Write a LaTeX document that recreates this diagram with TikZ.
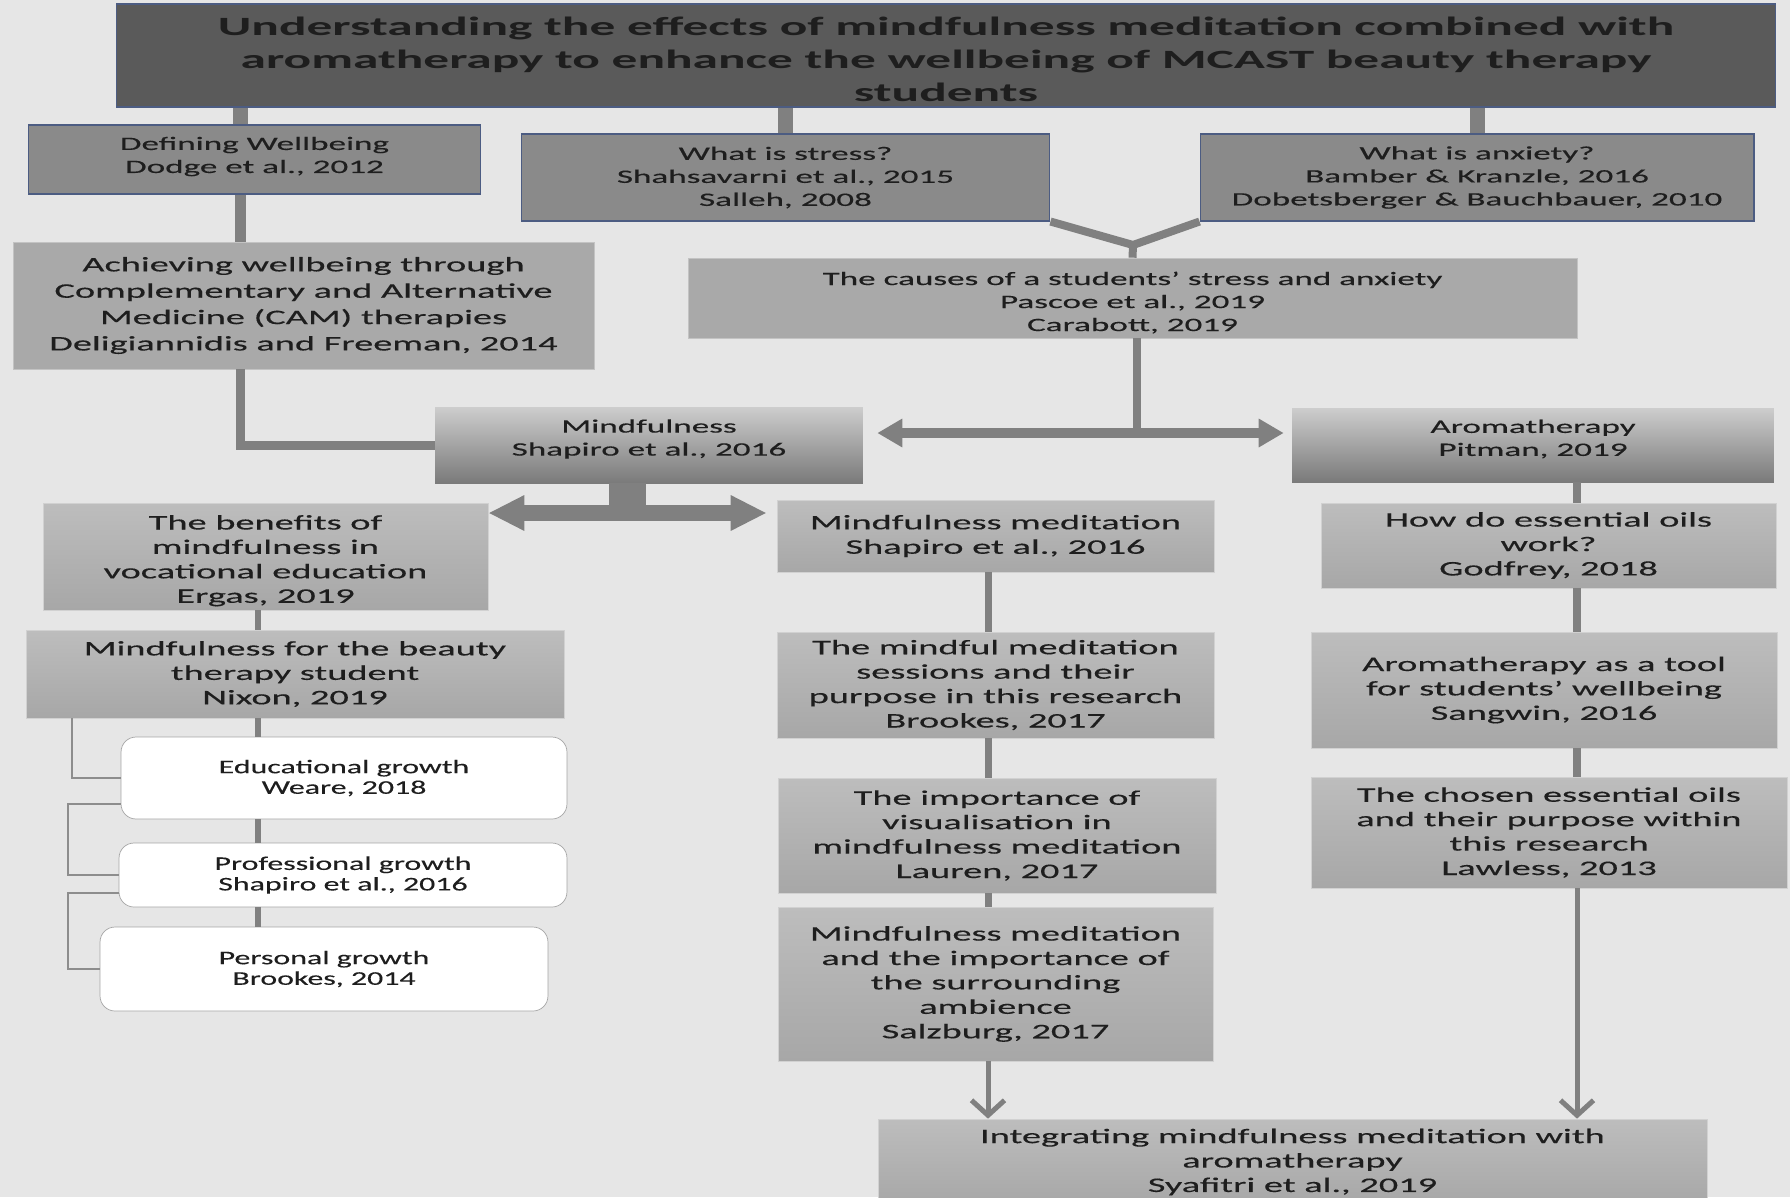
\documentclass[tikz,border=0pt]{standalone}
\usepackage{fontspec}
\setmainfont{Carlito}[FakeStretch=1.85, FakeBold=0.3]
\newfontfamily\headfam{Carlito}[FakeStretch=1.95]
\newfontfamily\leaffam{Carlito}[FakeStretch=1.65, FakeBold=0.2]
\usetikzlibrary{arrows.meta,calc}

\definecolor{bgfill}{HTML}{E6E6E6}
\definecolor{linkgray}{HTML}{808080}
\definecolor{titlefill}{HTML}{5A5A5A}
\definecolor{edgeblue}{HTML}{4C5C82}
\definecolor{topfill}{HTML}{8A8A8A}
\definecolor{boxfill}{HTML}{A9A9A9}
\definecolor{boxtop}{HTML}{BDBDBD}
\definecolor{boxbot}{HTML}{A7A7A7}
\definecolor{hubtop}{HTML}{CDCDCD}
\definecolor{hubbot}{HTML}{7A7A7A}
\definecolor{inkgray}{HTML}{1E1E1E}

\newcommand\bigtxt{\fontsize{11.8}{13.9}\selectfont}
\newcommand\midtxt{\fontsize{10.8}{13.1}\selectfont}
\newcommand\leaftxt{\leaffam\fontsize{11}{11.7}\selectfont}

\begin{document}
\begin{tikzpicture}[
    x=0.02cm, y=-0.02cm,
    sz/.style 2 args={minimum width=#1cm, minimum height=#2cm},
    base/.style={align=center, inner sep=1pt, text=inkgray},
    headbox/.style={base, fill=titlefill, draw=edgeblue, line width=0.6pt},
    headtxt/.style={base, font=\headfam\bfseries\fontsize{15}{18.8}\selectfont},
    topic/.style={base, fill=topfill, draw=edgeblue, line width=0.6pt, font=\midtxt},
    plain/.style={base, fill=boxfill, draw=boxfill!70!white, font=\bigtxt},
    shaded/.style={base, top color=boxtop, bottom color=boxbot, draw=boxtop!70!white, font=\bigtxt},
    hub/.style={base, top color=hubtop, bottom color=hubbot},
    midlabel/.style={base, font=\midtxt},
    growth/.style={base, fill=white, draw=gray!70, rounded corners=0.3cm, font=\leaftxt},
    link/.style={draw=linkgray, line width=#1},
    link/.default=0.14cm,
    bracket/.style={draw=linkgray!90!white, line width=1pt},
    fat/.style={draw=linkgray, line width=0.2cm, {Triangle[length=0.5cm,width=0.54cm]}-{Triangle[length=0.5cm,width=0.54cm]}},
    teearrow/.style={draw=linkgray, line width=0.32cm, {Triangle[length=0.72cm,width=0.66cm]}-{Triangle[length=0.72cm,width=0.66cm]}},
    barb/.style={draw=linkgray, line width=0.1cm, -{Straight Barb[length=0.3cm,width=0.66cm]}}
]
\clip (0,0) rectangle (1790,1197);
\fill[bgfill] (0,0) rectangle (1790,1197);

% spines
\coordinate (lspine) at (240,0);
\coordinate (bspine) at (258,0);
\coordinate (mspine) at (988,0);
\coordinate (rspine) at (1577,0);
\coordinate (fork) at (1133,245);
\coordinate (split) at (1137,433);
\coordinate (tee) at (627,513);

% boxes
\node (title) [headbox, sz={33.2}{2.06}] at (946,55.5) {};
\node (titletxt) [headtxt, yshift=-2pt] at (title) {Understanding the effects of mindfulness meditation combined with\\aromatherapy to enhance the wellbeing of MCAST beauty therapy\\students};
\node (defwell) [topic, sz={9.06}{1.38}] at (254.5,159.5) {};
\node (defwelltxt) [midlabel, yshift=1.7pt] at (defwell) {Defining Wellbeing\\Dodge et al., 2012};
\node (stress) [topic, sz={10.58}{1.74}] at (785.5,177.5) {What is stress?\\Shahsavarni et al., 2015\\Salleh, 2008};
\node (anxiety) [topic, sz={11.08}{1.74}] at (1477,177.5) {What is anxiety?\\Bamber \& Kranzle, 2016\\Dobetsberger \& Bauchbauer, 2010};
\node (achieve) [plain, sz={11.62}{2.54}, font=\fontsize{11.8}{15}\selectfont] at (303.5,305.5) {Achieving wellbeing through\\Complementary and Alternative\\Medicine (CAM) therapies\\Deligiannidis and Freeman, 2014};
\node (causes) [plain, sz={17.78}{1.6}] at (1132.5,298) {};
\node (causestxt) [midlabel, yshift=-2.6pt] at (causes) {The causes of a students’ stress and anxiety\\Pascoe et al., 2019\\Carabott, 2019};
\node (mindful) [hub, sz={8.56}{1.52}] at (649,445) {};
\node (mindfultxt) [midlabel, yshift=3.4pt] at (mindful) {Mindfulness\\Shapiro et al., 2016};
\node (aroma) [hub, sz={9.64}{1.48}] at (1533,445) {};
\node (aromatxt) [midlabel, yshift=3.4pt] at (aroma) {Aromatherapy\\Pitman, 2019};
\node (benefits) [shaded, sz={8.9}{2.14}] at (265.5,556.5) {};
\node (benefitstxt) [base, font=\bigtxt, yshift=-2.4pt] at (benefits) {The benefits of\\mindfulness in\\vocational education\\Ergas, 2019};
\node (mmed) [shaded, sz={8.74}{1.44}] at (995.5,536) {Mindfulness meditation\\Shapiro et al., 2016};
\node (oilswork) [shaded, sz={9.1}{1.7}] at (1548.5,545.5) {How do essential oils\\work?\\Godfrey, 2018};
\node (beauty) [shaded, sz={10.76}{1.76}] at (295,674) {Mindfulness for the beauty\\therapy student\\Nixon, 2019};
\node (sessions) [shaded, sz={8.74}{2.12}] at (995.5,685) {The mindful meditation\\sessions and their\\purpose in this research\\Brookes, 2017};
\node (tool) [shaded, sz={9.32}{2.32}] at (1544,690) {Aromatherapy as a tool\\for students’ wellbeing\\Sangwin, 2016};
\node (visual) [shaded, sz={8.76}{2.3}] at (997,835.5) {The importance of\\visualisation in\\mindfulness meditation\\Lauren, 2017};
\node (chosen) [shaded, sz={9.52}{2.22}] at (1549,832.5) {The chosen essential oils\\and their purpose within\\this research\\Lawless, 2013};
\node (educ) [growth, sz={8.92}{1.64}] at (344,778) {Educational growth\\Weare, 2018};
\node (prof) [growth, sz={8.96}{1.28}] at (343,875) {Professional growth\\Shapiro et al., 2016};
\node (personal) [growth, sz={8.96}{1.68}] at (324,969) {Personal growth\\Brookes, 2014};
\node (salz) [shaded, sz={8.7}{3.08}] at (995.5,984) {Mindfulness meditation\\and the importance of\\the surrounding\\ambience\\Salzburg, 2017};
\node (integ) [shaded, sz={16.58}{1.72}] at (1292.5,1162) {Integrating mindfulness meditation with\\aromatherapy\\Syafitri et al., 2019};

% top level
\draw [link=0.3cm] (title.south -| lspine) -- (defwell.north -| lspine);
\draw [link=0.3cm] (title.south -| stress.north) -- (stress.north);
\draw [link=0.3cm] (title.south -| anxiety.north) -- (anxiety.north);
\draw [link=0.22cm] (defwell.south -| lspine) -- (achieve.north -| lspine);
\draw [link=0.18cm] (achieve.south -| lspine) |- (mindful.west);
\draw [link=0.16cm] (stress.south east) -- (fork) -- (causes.north);
\draw [link=0.16cm] (anxiety.south west) -- (fork);
\draw [link=0.16cm] (causes.south -| split) -- (split);
\draw [fat] ([xshift=0.28cm]split -| mindful.east) -- ([xshift=-0.16cm]split -| aroma.west);

% mindfulness branch
\draw [draw=linkgray, line width=0.74cm] (mindful.south -| tee) -- ([yshift=-0.1cm]tee);
\draw [teearrow] (tee -| benefits.east) -- ([xshift=-0.2cm]tee -| mmed.west);
\draw [link=0.13cm] (benefits.south -| bspine) -- (beauty.north -| bspine);
\draw [link=0.13cm] (beauty.south -| bspine) -- (educ.north -| bspine);
\draw [link=0.13cm] (educ.south -| bspine) -- (prof.north -| bspine);
\draw [link=0.13cm] (prof.south -| bspine) -- (personal.north -| bspine);
\draw [bracket] ($(beauty.south west)+(46,0)$) |- (educ.west);
\draw [bracket] ($(educ.south west)+(0,-15)$) -- ++(-53,0) |- (prof.west);
\draw [bracket] ($(prof.south west)+(0,-14)$) -- ++(-51,0) |- (personal.west);

% meditation column
\draw [link] (mmed.south -| mspine) -- (sessions.north -| mspine);
\draw [link] (sessions.south -| mspine) -- (visual.north -| mspine);
\draw [link] (visual.south -| mspine) -- (salz.north -| mspine);
\draw [barb] (salz.south -| mspine) -- (integ.north -| mspine);

% aromatherapy column
\draw [link=0.16cm] (aroma.south -| rspine) -- (oilswork.north -| rspine);
\draw [link=0.16cm] (oilswork.south -| rspine) -- (tool.north -| rspine);
\draw [link=0.16cm] (tool.south -| rspine) -- (chosen.north -| rspine);
\draw [barb] (chosen.south -| rspine) -- (integ.north -| rspine);
\end{tikzpicture}
\end{document}
